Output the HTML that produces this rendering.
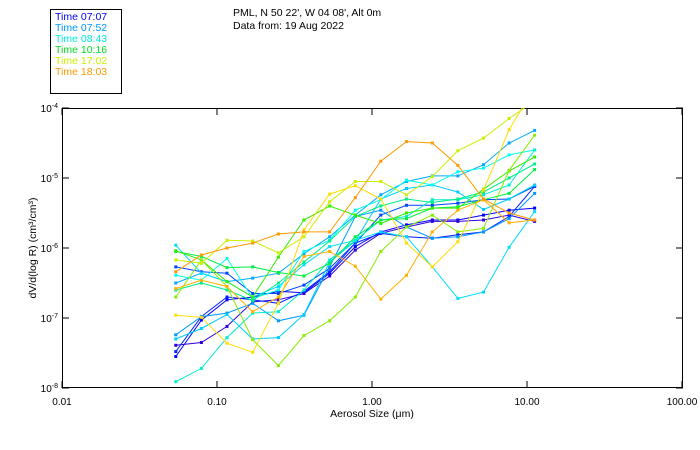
<!DOCTYPE html>
<html><head><meta charset="utf-8"><style>
body{margin:0;background:#fff;}
svg{display:block;font-family:"Liberation Sans",sans-serif;}
</style></head><body>
<svg id="chart" width="700" height="450" viewBox="0 0 700 450" xmlns="http://www.w3.org/2000/svg">
<defs><clipPath id="plotclip"><rect x="62" y="108" width="621" height="280"/></clipPath></defs>
<rect x="50.5" y="9.5" width="71" height="84" fill="#fff" stroke="#000"/>
<g font-size="10.5">
<text x="55" y="20" fill="#0000ff">Time 07:07</text>
<text x="55" y="31" fill="#0099ff">Time 07:52</text>
<text x="55" y="42" fill="#00eedd">Time 08:43</text>
<text x="55" y="53" fill="#00dd22">Time 10:16</text>
<text x="55" y="64" fill="#ccee00">Time 17:02</text>
<text x="55" y="75" fill="#ff9900">Time 18:03</text>
</g>
<text x="233" y="16" font-size="10.5">PML, N 50 22', W 04 08', Alt 0m</text>
<text x="233" y="29" font-size="10.5">Data from: 19 Aug 2022</text>
<rect x="62.5" y="108.5" width="620" height="279" fill="none" stroke="#000"/>
<g id="axes"></g>
<g id="series" clip-path="url(#plotclip)"></g>
<text x="372" y="417" font-size="10.5" text-anchor="middle">Aerosol Size (μm)</text>
<text transform="translate(36,248) rotate(-90)" font-size="10.5" text-anchor="middle">dV/d(log R) (cm³/cm³)</text>
</svg>
<script>
const xTicks=[0.01,0.1,1,10,100];
const xTickLabels=["0.01","0.10","1.00","10.00","100.00"];
const yTicks=[-8,-7,-6,-5,-4];
const yTickLabels=["-8","-7","-6","-5","-4"];
const sizes=[0.0542,0.0793,0.116,0.170,0.249,0.364,0.533,0.780,1.14,1.67,2.45,3.58,5.24,7.67,11.2];
const s1=[-6.34,-6.1,-6.0,-5.93,-5.8,-5.77,-5.77,-5.28,-4.76,-4.48,-4.5,-4.82,-5.3,-5.5,-5.6];
const s2=[-6.58,-6.46,-6.55,-6.91,-6.7,-6.12,-6.05,-6.26,-6.73,-6.39,-5.77,-5.46,-5.31,-5.64,-5.6];
const s3=[-6.96,-6.99,-7.36,-7.49,-6.79,-5.74,-5.23,-5.11,-5.3,-5.93,-6.27,-5.91,-5.17,-4.31,-3.7];
const s4=[-6.17,-6.22,-5.89,-5.9,-6.07,-5.84,-5.34,-5.05,-5.05,-5.24,-4.98,-4.61,-4.43,-4.15,-3.9];
const s5=[-6.7,-6.17,-6.55,-7.31,-7.68,-7.25,-7.04,-6.7,-6.05,-5.7,-5.53,-5.77,-5.72,-4.89,-4.39];
const s6=[-6.04,-6.17,-6.48,-6.7,-6.13,-5.6,-5.4,-5.53,-5.65,-5.5,-5.43,-5.43,-5.16,-4.9,-4.7];
const s7=[-6.05,-6.12,-6.28,-6.27,-6.35,-6.4,-6.22,-5.84,-5.6,-5.58,-5.43,-5.41,-5.31,-5.22,-4.88];
const s8=[-7.91,-7.72,-7.28,-6.93,-6.91,-6.6,-6.17,-5.89,-5.6,-5.55,-5.31,-5.31,-5.24,-5.1,-4.6];
const s9=[-5.96,-6.36,-6.48,-6.7,-6.55,-6.24,-5.98,-5.89,-5.77,-5.84,-6.27,-6.72,-6.63,-5.99,-5.48];
const s10=[-6.5,-6.36,-6.48,-6.43,-6.36,-6.08,-5.84,-5.53,-5.24,-5.05,-4.97,-4.97,-4.81,-4.5,-4.32];
const s11=[-7.24,-6.98,-6.93,-6.79,-7.04,-6.96,-6.27,-5.55,-5.46,-5.7,-5.86,-5.84,-5.77,-5.58,-5.22];
const s12=[-7.3,-7.15,-6.95,-7.3,-7.28,-6.95,-6.2,-5.9,-5.3,-5.15,-5.1,-5.2,-5.45,-5.3,-5.1];
const s13=[-6.27,-6.34,-6.36,-6.65,-6.65,-6.53,-6.29,-5.93,-5.53,-5.39,-5.39,-5.36,-5.31,-5.3,-5.12];
const s14=[-7.55,-7.03,-6.74,-6.7,-6.62,-6.64,-6.36,-5.98,-5.77,-5.67,-5.6,-5.6,-5.53,-5.46,-5.43];
const s15=[-7.39,-7.35,-7.12,-6.77,-6.74,-6.65,-6.4,-6.03,-5.79,-5.7,-5.62,-5.62,-5.6,-5.53,-5.62];
const s16=[-7.48,-6.98,-6.7,-6.74,-6.79,-6.62,-6.34,-5.93,-5.79,-5.84,-5.86,-5.81,-5.77,-5.55,-5.12];
const s17=[-6.39,-6.46,-6.15,-6.72,-6.6,-6.05,-5.89,-5.46,-5.31,-5.03,-5.1,-4.91,-4.86,-4.67,-4.6];
const s18=[-6.6,-6.5,-6.6,-6.75,-6.5,-6.2,-5.9,-5.55,-5.4,-5.3,-5.35,-5.3,-5.2,-5.0,-4.8];
const series=[s14,s15,s16,s13,s11,s10,s12,s9,s17,s8,s18,s7,s6,s5,s4,s3,s2,s1];
const colors=["#0000ff","#3300dd","#0022ff","#0044ff","#0099ff","#00aaff","#00ccff","#00ddff","#00ffee","#00eecc","#00ee88","#00ee44","#33ee00","#88ee00","#ccee00","#ffdd00","#ffb000","#ff9900"];
const X0=62,X1=682,Y0=388,Y1=108;
const xs=v=>X0+(Math.log10(v)+2)/4*(X1-X0);
const ys=e=>Y0-(e+8)/4*(Y0-Y1);
const NS="http://www.w3.org/2000/svg";
const ax=document.getElementById('axes');
xTicks.forEach((t,i)=>{
 const x=xs(t);
 [[388,381],[108,115]].forEach(([a,b])=>{
  const l=document.createElementNS(NS,'line');
  
  
  l.setAttribute('x1',x);l.setAttribute('x2',x);l.setAttribute('y1',a);l.setAttribute('y2',b);l.setAttribute('stroke','#000');ax.appendChild(l);});
 const tx=document.createElementNS(NS,'text');
 
 
 tx.setAttribute('x',x);tx.setAttribute('y',405);tx.setAttribute('font-size','10');tx.setAttribute('text-anchor','middle');tx.textContent=xTickLabels[i];ax.appendChild(tx);
});
yTicks.forEach((t,i)=>{
 const y=ys(t);
 [[62,69],[683,676]].forEach(([a,b])=>{
  const l=document.createElementNS(NS,'line');
  
  
  l.setAttribute('x1',a);l.setAttribute('x2',b);l.setAttribute('y1',y);l.setAttribute('y2',y);l.setAttribute('stroke','#000');ax.appendChild(l);});
 const tx=document.createElementNS(NS,'text');
 
 
 tx.setAttribute('x',58);tx.setAttribute('y',y+4);tx.setAttribute('font-size','10');tx.setAttribute('text-anchor','end');
 tx.innerHTML='10<tspan dy="-4" font-size="7">'+yTickLabels[i]+'</tspan>';ax.appendChild(tx);
});
const sg=document.getElementById('series');
series.forEach((s,k)=>{
 const g=document.createElementNS(NS,'g');
 
 
 const p=document.createElementNS(NS,'polyline');
 p.setAttribute('points',s.map((e,i)=>xs(sizes[i]).toFixed(1)+','+ys(e).toFixed(1)).join(' '));
 p.setAttribute('fill','none');p.setAttribute('stroke',colors[k]);p.setAttribute('stroke-width','1');
 g.appendChild(p);
 s.forEach((e,i)=>{
  const r=document.createElementNS(NS,'rect');
  
  
  r.setAttribute('x',xs(sizes[i])-1.5);r.setAttribute('y',ys(e)-1.5);r.setAttribute('width',3);r.setAttribute('height',3);r.setAttribute('fill',colors[k]);
  g.appendChild(r);
 });
 sg.appendChild(g);
});
</script>
</body></html>
